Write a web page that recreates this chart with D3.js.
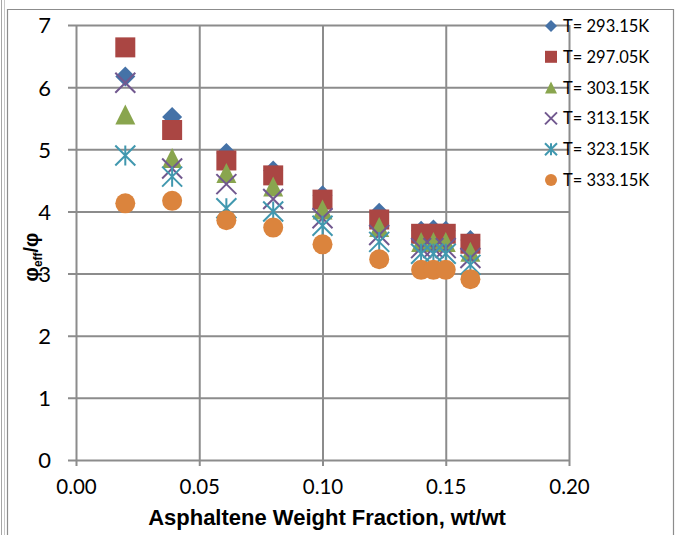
<!DOCTYPE html>
<html>
<head>
<meta charset="utf-8">
<script src="https://cdn.jsdelivr.net/npm/d3@7"></script>
<style>
  html, body { margin: 0; padding: 0; background: #fff; }
  svg { display: block; }
</style>
</head>
<body>
<svg id="chart" width="675" height="535"></svg>
<script>
// Asphaltene weight fraction (wt/wt) at which each ratio was measured
const fractions = [0.020, 0.039, 0.061, 0.080, 0.100, 0.123, 0.140, 0.145, 0.150, 0.160];

// Effective / nominal volume fraction ratio for each temperature
const t293 = [6.17, 5.52, 4.94, 4.66, 4.26, 3.98, 3.69, 3.71, 3.69, 3.54];
const t297 = [6.64, 5.31, 4.82, 4.58, 4.19, 3.87, 3.64, 3.64, 3.64, 3.48];
const t303 = [5.56, 4.86, 4.62, 4.40, 4.03, 3.75, 3.51, 3.51, 3.51, 3.35];
const t313 = [6.07, 4.69, 4.44, 4.20, 3.89, 3.62, 3.41, 3.41, 3.41, 3.25];
const t323 = [4.90, 4.56, 4.05, 4.00, 3.77, 3.51, 3.32, 3.32, 3.32, 3.14];
const t333 = [4.13, 4.17, 3.86, 3.74, 3.47, 3.23, 3.06, 3.06, 3.06, 2.91];

const seriesNames = ["T= 293.15K", "T= 297.05K", "T= 303.15K", "T= 313.15K", "T= 323.15K", "T= 333.15K"];

const xTicks = [0, 0.05, 0.10, 0.15, 0.20];
const yTicks = [0, 1, 2, 3, 4, 5, 6, 7];

const seriesValues = [t293, t297, t303, t313, t323, t333];
const markerKinds = ["diamond", "square", "triangle", "cross", "star", "circle"];
const colors = ["#4572A7", "#AA4643", "#89A54E", "#71588F", "#4198AF", "#DB843D"];

const svg = d3.select("#chart");
svg.append("rect").attr("width", 675).attr("height", 535).attr("fill", "#fff");

// Outer chart frame
svg.append("line").attr("x1", 1.5).attr("x2", 1.5).attr("y1", 0).attr("y2", 535)
  .attr("stroke", "#a6a6a6").attr("stroke-width", 1);
svg.append("line").attr("x1", 4.5).attr("x2", 4.5).attr("y1", 0).attr("y2", 535)
  .attr("stroke", "#c8c8c8").attr("stroke-width", 1);
svg.append("path").attr("d", "M7.5,540 V9.5 H673.5 V540")
  .attr("fill", "none").attr("stroke", "#8c8c8c").attr("stroke-width", 1.2);

const plot = { left: 76, right: 569, top: 25, bottom: 460 };

const x = d3.scaleLinear().domain([0, 0.20]).range([plot.left, plot.right]);
const y = d3.scaleLinear().domain([0, 7]).range([plot.bottom, plot.top]);

const gridColor = "#8c8c8c";
const tickFont = "Lato, 'Liberation Sans', sans-serif";

// Horizontal gridlines, with the y axis ticks reaching out to the left
const yAxis = d3.axisLeft(y).tickValues(yTicks).tickFormat(d3.format("d"))
  .tickSize(-(plot.right - plot.left)).tickPadding(0);
const gy = svg.append("g").attr("transform", `translate(${plot.left},0)`).call(yAxis);
gy.select(".domain").remove();
gy.selectAll(".tick line").attr("stroke", gridColor).attr("stroke-width", 2).attr("x1", -8);
gy.selectAll(".tick text").attr("x", 51 - plot.left).attr("dy", "0.36em")
  .attr("font-family", tickFont).attr("font-size", 22).attr("fill", "#000");

// Vertical gridlines, with the x axis ticks reaching below the axis
const xAxis = d3.axisBottom(x).tickValues(xTicks).tickFormat(d3.format(".2f"))
  .tickSize(-(plot.bottom - plot.top)).tickPadding(0);
const gx = svg.append("g").attr("transform", `translate(0,${plot.bottom})`).call(xAxis);
gx.select(".domain").remove();
gx.selectAll(".tick line").attr("stroke", gridColor).attr("stroke-width", 2).attr("y1", 6);
gx.selectAll(".tick text").attr("y", 34).attr("dy", 0)
  .attr("font-family", tickFont).attr("font-size", 20.5).attr("fill", "#000");

// Axis titles
svg.append("text")
  .attr("x", 327).attr("y", 525)
  .attr("text-anchor", "middle")
  .attr("font-family", "'Liberation Sans Narrow', 'Liberation Sans', Arial, sans-serif")
  .attr("font-weight", "bold").attr("font-size", 22)
  .attr("fill", "#000")
  .text("Asphaltene Weight Fraction, wt/wt");

const yTitle = svg.append("text")
  .attr("transform", "translate(38,257) rotate(-90)")
  .attr("text-anchor", "middle")
  .attr("font-family", "'Liberation Sans', Arial, sans-serif")
  .attr("font-weight", "bold").attr("font-size", 20)
  .attr("fill", "#000");
yTitle.append("tspan").text("φ");
yTitle.append("tspan").attr("font-size", 12).attr("dy", 4).text("eff");
yTitle.append("tspan").attr("dy", -4).text("/φ");

// Marker shapes, s = full marker size in px
function markerPath(kind, s) {
  const h = s / 2;
  const p = d3.path();
  switch (kind) {
    case "diamond":
      p.moveTo(0, -h); p.lineTo(h, 0); p.lineTo(0, h); p.lineTo(-h, 0); p.closePath(); break;
    case "square":
      p.rect(-h, -h, s, s); break;
    case "triangle":
      p.moveTo(0, -h); p.lineTo(h, h); p.lineTo(-h, h); p.closePath(); break;
    case "circle":
      p.arc(0, 0, h, 0, 2 * Math.PI); break;
    case "cross":
      p.moveTo(-h, -h); p.lineTo(h, h); p.moveTo(h, -h); p.lineTo(-h, h); break;
    case "star":
      p.moveTo(-h, -h); p.lineTo(h, h); p.moveTo(h, -h); p.lineTo(-h, h);
      p.moveTo(0, -h); p.lineTo(0, h); break;
  }
  return p.toString();
}

function drawMarker(sel, kind, color, s) {
  const stroked = kind === "cross" || kind === "star";
  sel.attr("d", markerPath(kind, s))
    .attr("fill", stroked ? "none" : color)
    .attr("stroke", stroked ? color : "none")
    .attr("stroke-width", stroked ? 2 : 0);
}

// Data points, one series at a time so later temperatures sit on top
seriesValues.forEach((vals, i) => {
  const g = svg.append("g").attr("class", "series");
  g.selectAll("path")
    .data(vals.map((v, j) => ({ x: fractions[j], y: v })))
    .join("path")
    .attr("transform", d => `translate(${x(d.x)},${y(d.y)})`)
    .each(function () { drawMarker(d3.select(this), markerKinds[i], colors[i], 20); });
});

// Legend (no background, gridlines show through)
const legend = svg.append("g").attr("class", "legend");
seriesNames.forEach((name, i) => {
  const cy = 26 + i * 30.8;
  legend.append("path")
    .attr("transform", `translate(551,${cy})`)
    .call(sel => drawMarker(sel, markerKinds[i], colors[i], 12));
  legend.append("text")
    .attr("x", 563).attr("y", cy).attr("dy", "0.36em")
    .attr("font-family", "Lato, 'Liberation Sans', sans-serif")
    .attr("font-size", 16.5).attr("fill", "#000")
    .text(name);
});
</script>
</body>
</html>
